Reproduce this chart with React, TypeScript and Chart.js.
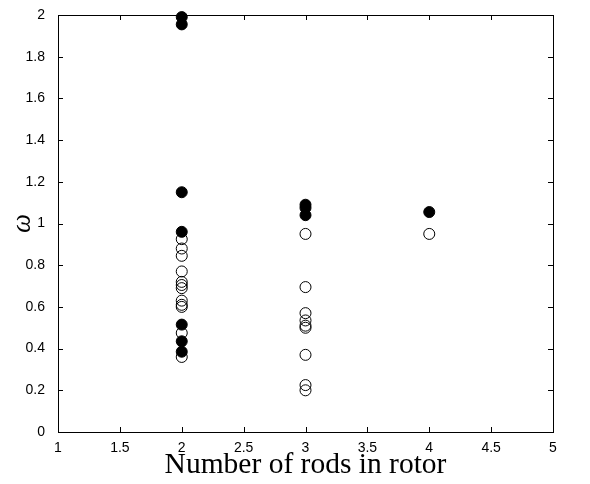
import React, { useEffect, useRef } from "react";
import { Chart, registerables } from "chart.js";

Chart.register(...registerables);

const xTicks = [1, 1.5, 2, 2.5, 3, 3.5, 4, 4.5, 5];
const yTicks = [0, 0.2, 0.4, 0.6, 0.8, 1, 1.2, 1.4, 1.6, 1.8, 2];

// filled markers (x = number of rods, y = omega)
const filledX = [2, 2, 2, 2, 2, 2, 2, 3, 3, 3, 4];
const filledY = [1.99, 1.955, 1.15, 0.96, 0.515, 0.435, 0.385, 1.09, 1.075, 1.04, 1.055];

// open markers
const openX = [2, 2, 2, 2, 2, 2, 2, 2, 2, 2, 2, 2, 3, 3, 3, 3, 3, 3, 3, 3, 3, 4];
const openY = [0.925, 0.88, 0.845, 0.77, 0.72, 0.705, 0.69, 0.63, 0.61, 0.6, 0.475, 0.36,
  0.95, 0.695, 0.57, 0.535, 0.51, 0.5, 0.37, 0.225, 0.2, 0.95];

const FONT = "'Liberation Sans', Arial, sans-serif";
const SERIF = "'Liberation Serif', 'DejaVu Serif', serif";

const fmt = (v: any) => String(Math.round(Number(v) * 10) / 10);

const framePlugin = {
  id: "frame",
  afterDraw(chart: any) {
    const { ctx, chartArea: a, scales } = chart;
    const xs = scales.x, ys = scales.y;
    ctx.save();
    ctx.strokeStyle = "#000";
    ctx.lineWidth = 1;
    const L = 5;
    ctx.beginPath();
    for (const v of xTicks) {
      const px = Math.round(xs.getPixelForValue(v)) + 0.5;
      ctx.moveTo(px, a.bottom);
      ctx.lineTo(px, a.bottom - L);
      ctx.moveTo(px, a.top);
      ctx.lineTo(px, a.top + L);
    }
    for (const v of yTicks) {
      const py = Math.round(ys.getPixelForValue(v)) + 0.5;
      ctx.moveTo(a.left, py);
      ctx.lineTo(a.left + L, py);
      ctx.moveTo(a.right, py);
      ctx.lineTo(a.right - L, py);
    }
    ctx.stroke();
    ctx.strokeRect(Math.round(a.left) + 0.5, Math.round(a.top) + 0.5,
      Math.round(a.right - a.left), Math.round(a.bottom - a.top));
    ctx.restore();
  },
};

export default function App() {
  const ref = useRef<HTMLCanvasElement>(null);
  useEffect(() => {
    document.body.style.margin = "0";
    const filled = filledX.map((x, i) => ({ x, y: filledY[i] }));
    const open = openX.map((x, i) => ({ x, y: openY[i] }));
    const chart = new Chart(ref.current!, {
      type: "scatter",
      data: {
        datasets: [
          {
            data: open,
            pointRadius: 5.5,
            pointBorderWidth: 1,
            pointBackgroundColor: "rgba(0,0,0,0)",
            pointBorderColor: "#000",
            clip: false as any,
          },
          {
            data: filled,
            pointRadius: 5.5,
            pointBorderWidth: 1,
            pointBackgroundColor: "#000",
            pointBorderColor: "#000",
            clip: false as any,
          },
        ],
      },
      options: {
        animation: false,
        responsive: false,
        layout: { padding: { top: 15, right: 37, left: 0, bottom: 0 } },
        plugins: { legend: { display: false }, tooltip: { enabled: false } },
        scales: {
          x: {
            type: "linear",
            min: 1,
            max: 5,
            afterFit: (s: any) => { s.height = 52; },
            afterBuildTicks: (s: any) => { s.ticks = xTicks.map((v) => ({ value: v })); },
            grid: { display: false },
            border: { display: false },
            ticks: { color: "#000", font: { family: FONT, size: 14 }, padding: 0, callback: fmt },
            title: {
              display: true,
              text: "Number of rods in rotor",
              color: "#000",
              font: { family: SERIF, size: 29.5 },
              padding: { top: 0, bottom: 1 },
            },
          },
          y: {
            type: "linear",
            min: 0,
            max: 2,
            afterFit: (s: any) => { s.width = 58; },
            afterBuildTicks: (s: any) => { s.ticks = yTicks.map((v) => ({ value: v })); },
            grid: { display: false },
            border: { display: false },
            ticks: { color: "#000", font: { family: FONT, size: 14 }, padding: 5, callback: fmt },
            title: {
              display: true,
              text: "ω",
              color: "#000",
              font: { family: SERIF, size: 27, style: "italic" },
              padding: { top: 7, bottom: 0 },
            },
          },
        },
      },
      plugins: [framePlugin],
    });
    return () => chart.destroy();
  }, []);
  return (
    <div style={{ width: 590, height: 484, background: "#fff" }}>
      <canvas ref={ref} width={590} height={484} style={{ display: "block" }} />
    </div>
  );
}
